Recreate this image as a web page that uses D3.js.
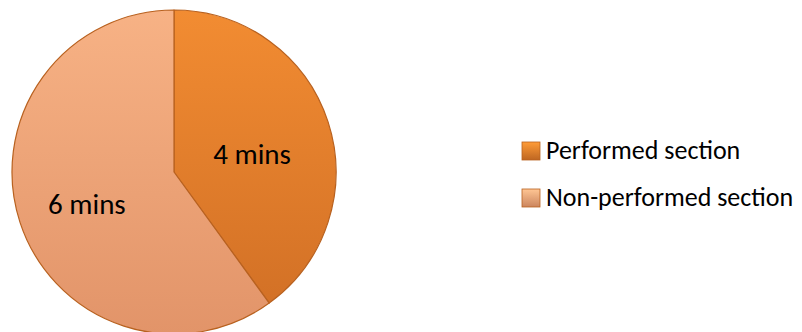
<!DOCTYPE html>
<html>
<head>
<meta charset="utf-8">
<script src="https://cdn.jsdelivr.net/npm/d3@7"></script>
<style>
  body { margin: 0; background: #fff; }
  svg text { font-family: Carlito, Calibri, "Open Sans", sans-serif; fill: #000; }
</style>
</head>
<body>
<div id="chart"></div>
<script>
// data
const categories = ["Performed section", "Non-performed section"];
const values = [4, 6];
const sliceLabels = ["4 mins", "6 mins"];
const colors = ["#f28c32", "#f7b285"];
const darkColors = ["#d37126", "#e29469"];

const width = 802, height = 332;
const cx = 174, cy = 172, radius = 162;

const svg = d3.select("#chart").append("svg")
  .attr("width", width)
  .attr("height", height);

// gradients for the soft shading
const defs = svg.append("defs");
categories.forEach(function(c, i) {
  let g = defs.append("linearGradient")
    .attr("id", "grad" + i)
    .attr("x1", 0).attr("y1", 0).attr("x2", 0).attr("y2", 1);
  g.append("stop").attr("offset", "0%").attr("stop-color", colors[i]);
  g.append("stop").attr("offset", "100%").attr("stop-color", darkColors[i]);
});
categories.forEach(function(c, i) {
  let g = defs.append("linearGradient")
    .attr("id", "sw" + i)
    .attr("x1", 0).attr("y1", 0).attr("x2", 0).attr("y2", 1);
  g.append("stop").attr("offset", "0%").attr("stop-color", d3.color(colors[i]).brighter(0.3));
  g.append("stop").attr("offset", "100%").attr("stop-color", d3.color(darkColors[i]).darker(0.3));
});

const pie = d3.pie().sort(null).value(d => d);
const arcs = pie(values);
const arc = d3.arc().innerRadius(0).outerRadius(radius);

const g = svg.append("g")
  .attr("transform", "translate(" + cx + "," + cy + ")");

g.selectAll("path")
  .data(arcs)
  .enter()
  .append("path")
    .attr("d", arc)
    .attr("fill", (d, i) => "url(#grad" + i + ")")
    .attr("stroke", "#b8611f")
    .attr("stroke-width", 1.2)
    .attr("stroke-linejoin", "round");

// slice labels, nudged to where the original puts them (baseline)
const labelArc = d3.arc().innerRadius(radius * 0.52).outerRadius(radius * 0.52);
const nudge = [[-2, 18], [-7, 16]];
g.selectAll("text.lbl")
  .data(arcs)
  .enter()
  .append("text")
    .attr("class", "lbl")
    .attr("transform", function(d, i) {
      let p = labelArc.centroid(d);
      return "translate(" + (p[0] + nudge[i][0]) + "," + (p[1] + nudge[i][1]) + ")";
    })
    .attr("text-anchor", "middle")
    .style("font-size", "29px")
    .text((d, i) => sliceLabels[i]);

// legend
const legend = svg.append("g")
  .attr("transform", "translate(522,142)");
const item = legend.selectAll("g")
  .data(categories)
  .enter()
  .append("g")
    .attr("transform", (d, i) => "translate(0," + (i * 47) + ")");
item.append("rect")
  .attr("x", 0).attr("y", 0)
  .attr("width", 18).attr("height", 18)
  .attr("fill", (d, i) => "url(#sw" + i + ")")
  .attr("stroke", "#b8611f")
  .attr("stroke-width", 0.8);
item.append("text")
  .attr("x", 24)
  .attr("y", 17)
  .style("font-size", "26px")
  .text(d => d);
</script>
</body>
</html>
